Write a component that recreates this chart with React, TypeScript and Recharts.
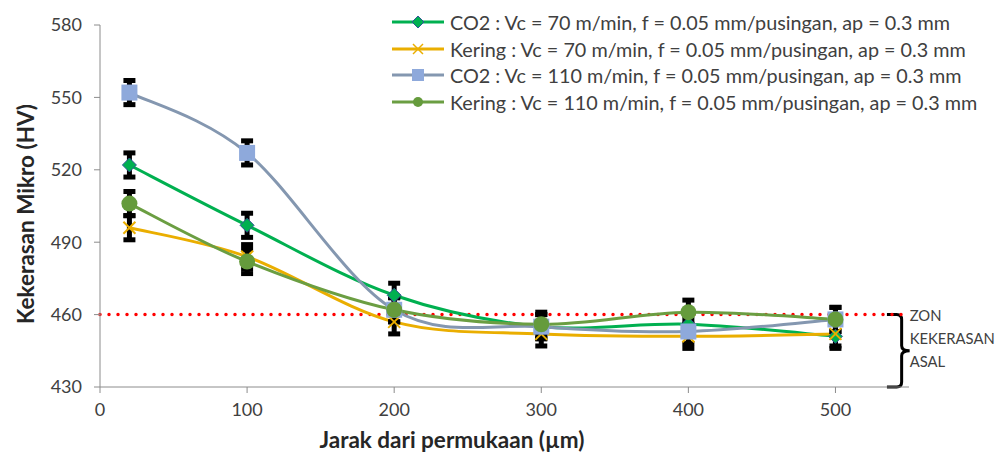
import React from "react"
import {
  LineChart,
  Line,
  XAxis,
  YAxis,
  ErrorBar,
  ReferenceLine,
  ReferenceArea,
  Legend,
  Label,
} from "recharts"

// jarak dari permukaan (µm)
const distances = [20, 100, 200, 300, 400, 500]

// kekerasan mikro (HV) untuk setiap siri
const co2Vc70 = [522, 497, 468, 455, 456, 451]
const keringVc70 = [496, 484, 457, 452, 451, 452]
const co2Vc110 = [552, 527, 462, 455, 453, 458]
const keringVc110 = [506, 482, 462, 456, 461, 458]
const errorHV = [5, 5, 5, 5, 5, 5]

const xTicks = [0, 100, 200, 300, 400, 500]
const yTicks = [430, 460, 490, 520, 550, 580]
const baseHardness = 460

const seriesNames = [
  "CO2 : Vc = 70 m/min, f = 0.05 mm/pusingan, ap = 0.3 mm",
  "Kering : Vc = 70 m/min, f = 0.05 mm/pusingan, ap = 0.3 mm",
  "CO2 : Vc = 110 m/min, f = 0.05 mm/pusingan, ap = 0.3 mm",
  "Kering : Vc = 110 m/min, f = 0.05 mm/pusingan, ap = 0.3 mm",
]
const zoneLabel = ["ZON", "KEKERASAN", "ASAL"]

const data = distances.map((d, i) => ({
  d,
  co2Vc70: co2Vc70[i],
  keringVc70: keringVc70[i],
  co2Vc110: co2Vc110[i],
  keringVc110: keringVc110[i],
  err: errorHV[i],
}))

const FONT = "Lato, 'Noto Sans', sans-serif"
const TEXT = "#404040"
const AXIS = "#8c8c8c"

// smoothing ala Excel (Catmull-Rom)
function excelSmooth(context: any) {
  let pts: number[][] = []
  return {
    areaStart() {},
    areaEnd() {},
    lineStart() {
      pts = []
    },
    point(x: number, y: number) {
      pts.push([+x, +y])
    },
    lineEnd() {
      const n = pts.length
      if (!n) return
      context.moveTo(pts[0][0], pts[0][1])
      for (let i = 0; i < n - 1; i++) {
        const p0 = pts[Math.max(i - 1, 0)]
        const p1 = pts[i]
        const p2 = pts[i + 1]
        const p3 = pts[Math.min(i + 2, n - 1)]
        context.bezierCurveTo(
          p1[0] + (p2[0] - p0[0]) / 6,
          p1[1] + (p2[1] - p0[1]) / 6,
          p2[0] - (p3[0] - p1[0]) / 6,
          p2[1] - (p3[1] - p1[1]) / 6,
          p2[0],
          p2[1]
        )
      }
    },
  }
}

type Marker = "diamond" | "x" | "square" | "circle"

const series = [
  { key: "co2Vc70", name: seriesNames[0], line: "#00B050", marker: "diamond" as Marker, fill: "#00B050" },
  { key: "keringVc70", name: seriesNames[1], line: "#EAAE00", marker: "x" as Marker, fill: "#EAAE00" },
  { key: "co2Vc110", name: seriesNames[2], line: "#8497B0", marker: "square" as Marker, fill: "#8EA9DB" },
  { key: "keringVc110", name: seriesNames[3], line: "#6B9E42", marker: "circle" as Marker, fill: "#659B3C" },
]

function drawMarker(marker: Marker, cx: number, cy: number, fill: string, key?: string) {
  if (marker === "diamond")
    return (
      <polygon
        key={key}
        points={`${cx},${cy - 7} ${cx + 7},${cy} ${cx},${cy + 7} ${cx - 7},${cy}`}
        fill={fill}
        stroke="#2F5597"
        strokeWidth={1}
      />
    )
  if (marker === "x")
    return (
      <g key={key} stroke={fill} strokeWidth={2}>
        <line x1={cx - 6} y1={cy - 6} x2={cx + 6} y2={cy + 6} />
        <line x1={cx - 6} y1={cy + 6} x2={cx + 6} y2={cy - 6} />
      </g>
    )
  if (marker === "square")
    return <rect key={key} x={cx - 8} y={cy - 8} width={16} height={16} fill={fill} />
  return <circle key={key} cx={cx} cy={cy} r={8} fill={fill} />
}

function renderDot(marker: Marker, fill: string) {
  return (props: any) => {
    const { cx, cy, index } = props
    if (cx == null || cy == null) return <g key={index} />
    return drawMarker(marker, cx, cy, fill, `m-${index}`)
  }
}

function LegendBox() {
  return (
    <div style={{ fontFamily: FONT, fontSize: 19.8, color: TEXT }}>
      {series.map((s) => (
        <div key={s.key} style={{ display: "flex", alignItems: "center", height: 26.5 }}>
          <svg width={56} height={20} style={{ marginRight: 4 }}>
            <line x1={2} y1={10} x2={54} y2={10} stroke={s.line} strokeWidth={3} />
            {s.marker === "square"
              ? <rect x={22} y={4} width={12} height={12} fill={s.fill} />
              : s.marker === "circle"
              ? <circle cx={28} cy={10} r={5} fill={s.fill} />
              : s.marker === "diamond"
              ? <polygon points="28,4 34,10 28,16 22,10" fill={s.fill} stroke="#2F5597" strokeWidth={1} />
              : (
                <g stroke={s.fill} strokeWidth={1.5}>
                  <line x1={23} y1={5} x2={33} y2={15} />
                  <line x1={23} y1={15} x2={33} y2={5} />
                </g>
              )}
          </svg>
          <span style={{ whiteSpace: "nowrap" }}>{s.name}</span>
        </div>
      ))}
    </div>
  )
}

function ZoneBracket(props: any) {
  const { x, y, width, height } = props
  const x0 = x
  const xm = x + width
  const ym = y + height / 2
  const r = 5
  const path = `M ${x0} ${y} L ${xm - r} ${y} Q ${xm} ${y} ${xm} ${y + r} L ${xm} ${ym - r} Q ${xm} ${ym} ${xm + 8} ${ym} Q ${xm} ${ym} ${xm} ${ym + r} L ${xm} ${y + height - r} Q ${xm} ${y + height} ${xm - r} ${y + height} L ${x0} ${y + height}`
  return (
    <g>
      <path d={path} fill="none" stroke="#000" strokeWidth={3} />
      {zoneLabel.map((t, i) => (
        <text
          key={t}
          x={xm + 8}
          y={y + 6 + i * 23}
          fontFamily={FONT}
          fontSize={14.8}
          fill={TEXT}
        >
          {t}
        </text>
      ))}
    </g>
  )
}

export default function App() {
  return (
    <div style={{ position: "absolute", left: 0, top: 0, background: "#fff" }}>
      <LineChart
        width={998}
        height={455}
        data={data}
        margin={{ top: 25, right: 89, bottom: 28, left: 0 }}
      >
        <XAxis
          dataKey="d"
          type="number"
          domain={[0, 550]}
          ticks={xTicks}
          height={40}
          stroke={AXIS}
          tickSize={6}
          tickMargin={10}
          tick={{ fill: TEXT, fontSize: 18, fontFamily: FONT }}
        >
          <Label
            content={() => (
              <text x={452} y={448} textAnchor="middle" fontFamily={FONT} fontSize={22.5} fontWeight="bold" fill="#262626">
                Jarak dari permukaan (µm)
              </text>
            )}
          />
        </XAxis>
        <YAxis
          type="number"
          domain={[430, 580]}
          ticks={yTicks}
          width={100}
          stroke={AXIS}
          tickSize={6}
          tickMargin={12}
          tick={{ fill: TEXT, fontSize: 18, fontFamily: FONT }}
        >
          <Label
            content={() => (
              <text
                x={25}
                y={214}
                transform="rotate(-90 25 214)"
                textAnchor="middle"
                dominantBaseline="central"
                fontFamily={FONT}
                fontSize={22.5}
                fontWeight="bold"
                fill="#262626"
              >
                Kekerasan Mikro (HV)
              </text>
            )}
          />
        </YAxis>
        <ReferenceLine
          y={baseHardness}
          stroke="#FF0000"
          strokeWidth={3.5}
          strokeDasharray="0 9"
          strokeLinecap="round"
        />
        <ReferenceArea
          x1={535}
          x2={545}
          y1={430}
          y2={baseHardness}
          ifOverflow="visible"
          shape={(p: any) => <ZoneBracket {...p} />}
        />
        {series.map((s) => (
          <Line
            key={s.key}
            dataKey={s.key}
            name={s.name}
            type={excelSmooth as any}
            stroke={s.line}
            strokeWidth={3}
            dot={renderDot(s.marker, s.fill)}
            activeDot={false}
            isAnimationActive={false}
          >
            <ErrorBar dataKey="err" direction="y" width={6} stroke="#000" strokeWidth={5} />
          </Line>
        ))}
        <Legend
          layout="vertical"
          verticalAlign="middle"
          align="center"
          wrapperStyle={{ top: 9, left: 390, width: 606 }}
          content={() => <LegendBox />}
        />
      </LineChart>
    </div>
  )
}
